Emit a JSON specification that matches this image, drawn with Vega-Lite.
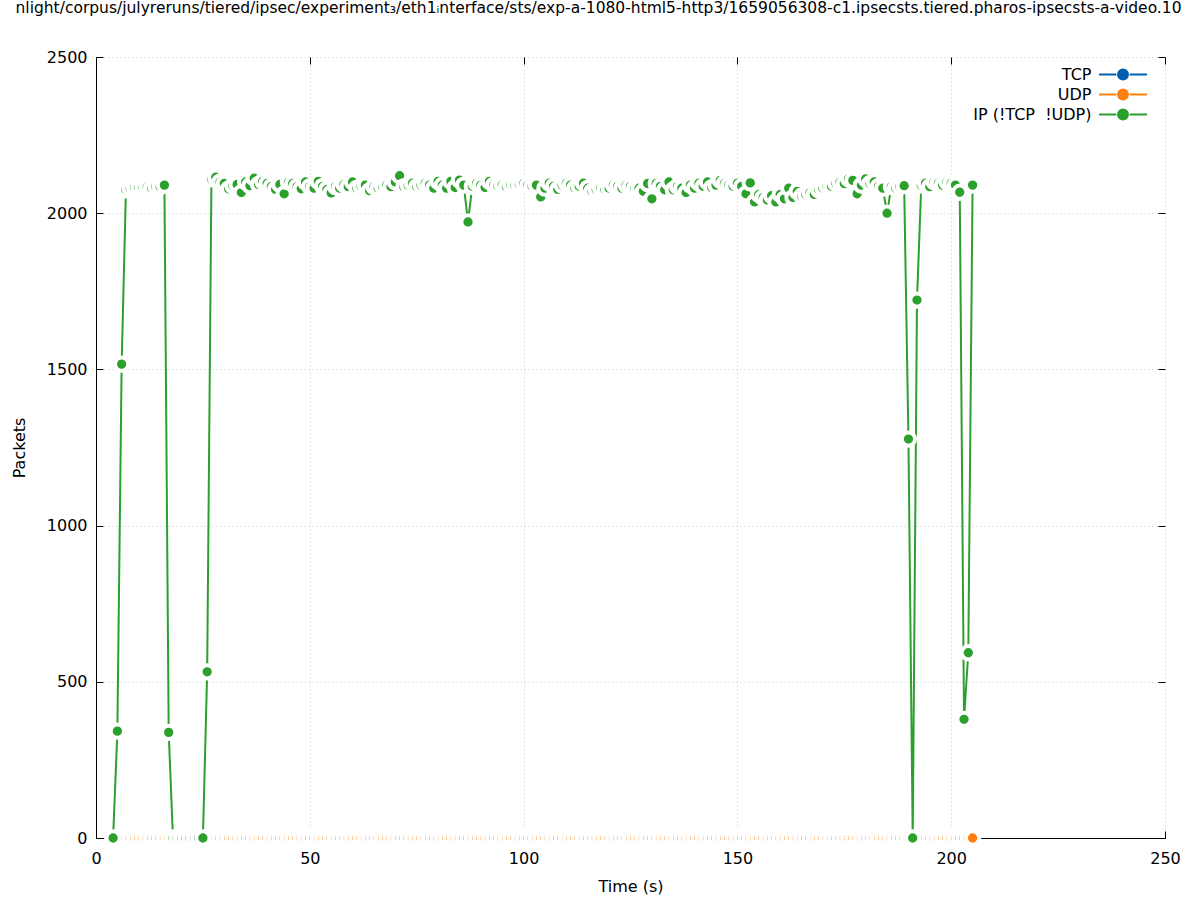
{
"$schema": "https://vega.github.io/schema/vega-lite/v6.json",
"width": 1069, "height": 781,
"autosize": {"type": "none"},
"padding": {"left": 96, "top": 57, "right": 32, "bottom": 62},
"background": "white",
"title": {"text": "nlight/corpus/julyreruns/tiered/ipsec/experiment₃/eth1ᵢnterface/sts/exp-a-1080-html5-http3/1659056308-c1.ipsecsts.tiered.pharos-ipsecsts-a-video.10", "fontSize": 15.5, "fontWeight": "normal", "font": "DejaVu Sans", "anchor": "middle", "dx": -32, "offset": 21, "baseline": "alphabetic", "color": "black"},
"data": {"values": [
{"t":4,"tcp":0,"udp":0,"ip":0},{"t":5,"tcp":0,"udp":0,"ip":342},{"t":6,"tcp":0,"udp":0,"ip":1517},{"t":7,"tcp":0,"udp":0,"ip":2075},{"t":8,"tcp":0,"udp":0,"ip":2080},{"t":9,"tcp":0,"udp":0,"ip":2082},{"t":10,"tcp":0,"udp":0,"ip":2082},{"t":11,"tcp":0,"udp":0,"ip":2083},{"t":12,"tcp":0,"udp":0,"ip":2084},{"t":13,"tcp":0,"udp":0,"ip":2080},{"t":14,"tcp":0,"udp":0,"ip":2085},{"t":15,"tcp":0,"udp":0,"ip":2085},{"t":16,"tcp":0,"udp":0,"ip":2090},{"t":17,"tcp":0,"udp":0,"ip":338},{"t":18,"tcp":0,"udp":0,"ip":0},{"t":19,"tcp":0,"udp":0,"ip":0},{"t":20,"tcp":0,"udp":0,"ip":0},{"t":21,"tcp":0,"udp":0,"ip":0},{"t":22,"tcp":0,"udp":0,"ip":0},{"t":23,"tcp":0,"udp":0,"ip":0},{"t":24,"tcp":0,"udp":0,"ip":0},{"t":25,"tcp":0,"udp":0,"ip":0},{"t":26,"tcp":0,"udp":0,"ip":532},{"t":27,"tcp":0,"udp":0,"ip":2110},{"t":28,"tcp":0,"udp":0,"ip":2115},{"t":29,"tcp":0,"udp":0,"ip":2100},{"t":30,"tcp":0,"udp":0,"ip":2095},{"t":31,"tcp":0,"udp":0,"ip":2078},{"t":32,"tcp":0,"udp":0,"ip":2088},{"t":33,"tcp":0,"udp":0,"ip":2092},{"t":34,"tcp":0,"udp":0,"ip":2066},{"t":35,"tcp":0,"udp":0,"ip":2100},{"t":36,"tcp":0,"udp":0,"ip":2088},{"t":37,"tcp":0,"udp":0,"ip":2112},{"t":38,"tcp":0,"udp":0,"ip":2092},{"t":39,"tcp":0,"udp":0,"ip":2102},{"t":40,"tcp":0,"udp":0,"ip":2095},{"t":41,"tcp":0,"udp":0,"ip":2085},{"t":42,"tcp":0,"udp":0,"ip":2076},{"t":43,"tcp":0,"udp":0,"ip":2092},{"t":44,"tcp":0,"udp":0,"ip":2062},{"t":45,"tcp":0,"udp":0,"ip":2100},{"t":46,"tcp":0,"udp":0,"ip":2095},{"t":47,"tcp":0,"udp":0,"ip":2085},{"t":48,"tcp":0,"udp":0,"ip":2078},{"t":49,"tcp":0,"udp":0,"ip":2100},{"t":50,"tcp":0,"udp":0,"ip":2085},{"t":51,"tcp":0,"udp":0,"ip":2080},{"t":52,"tcp":0,"udp":0,"ip":2102},{"t":53,"tcp":0,"udp":0,"ip":2086},{"t":54,"tcp":0,"udp":0,"ip":2076},{"t":55,"tcp":0,"udp":0,"ip":2065},{"t":56,"tcp":0,"udp":0,"ip":2085},{"t":57,"tcp":0,"udp":0,"ip":2080},{"t":58,"tcp":0,"udp":0,"ip":2092},{"t":59,"tcp":0,"udp":0,"ip":2085},{"t":60,"tcp":0,"udp":0,"ip":2100},{"t":61,"tcp":0,"udp":0,"ip":2080},{"t":62,"tcp":0,"udp":0,"ip":2086},{"t":63,"tcp":0,"udp":0,"ip":2090},{"t":64,"tcp":0,"udp":0,"ip":2072},{"t":65,"tcp":0,"udp":0,"ip":2085},{"t":66,"tcp":0,"udp":0,"ip":2080},{"t":67,"tcp":0,"udp":0,"ip":2086},{"t":68,"tcp":0,"udp":0,"ip":2090},{"t":69,"tcp":0,"udp":0,"ip":2085},{"t":70,"tcp":0,"udp":0,"ip":2100},{"t":71,"tcp":0,"udp":0,"ip":2120},{"t":72,"tcp":0,"udp":0,"ip":2085},{"t":73,"tcp":0,"udp":0,"ip":2090},{"t":74,"tcp":0,"udp":0,"ip":2096},{"t":75,"tcp":0,"udp":0,"ip":2085},{"t":76,"tcp":0,"udp":0,"ip":2090},{"t":77,"tcp":0,"udp":0,"ip":2096},{"t":78,"tcp":0,"udp":0,"ip":2090},{"t":79,"tcp":0,"udp":0,"ip":2080},{"t":80,"tcp":0,"udp":0,"ip":2102},{"t":81,"tcp":0,"udp":0,"ip":2090},{"t":82,"tcp":0,"udp":0,"ip":2080},{"t":83,"tcp":0,"udp":0,"ip":2102},{"t":84,"tcp":0,"udp":0,"ip":2082},{"t":85,"tcp":0,"udp":0,"ip":2106},{"t":86,"tcp":0,"udp":0,"ip":2090},{"t":87,"tcp":0,"udp":0,"ip":1972},{"t":88,"tcp":0,"udp":0,"ip":2086},{"t":89,"tcp":0,"udp":0,"ip":2096},{"t":90,"tcp":0,"udp":0,"ip":2090},{"t":91,"tcp":0,"udp":0,"ip":2082},{"t":92,"tcp":0,"udp":0,"ip":2102},{"t":93,"tcp":0,"udp":0,"ip":2090},{"t":94,"tcp":0,"udp":0,"ip":2086},{"t":95,"tcp":0,"udp":0,"ip":2090},{"t":96,"tcp":0,"udp":0,"ip":2085},{"t":97,"tcp":0,"udp":0,"ip":2090},{"t":98,"tcp":0,"udp":0,"ip":2090},{"t":99,"tcp":0,"udp":0,"ip":2092},{"t":100,"tcp":0,"udp":0,"ip":2095},{"t":101,"tcp":0,"udp":0,"ip":2090},{"t":102,"tcp":0,"udp":0,"ip":2086},{"t":103,"tcp":0,"udp":0,"ip":2090},{"t":104,"tcp":0,"udp":0,"ip":2052},{"t":105,"tcp":0,"udp":0,"ip":2080},{"t":106,"tcp":0,"udp":0,"ip":2096},{"t":107,"tcp":0,"udp":0,"ip":2086},{"t":108,"tcp":0,"udp":0,"ip":2076},{"t":109,"tcp":0,"udp":0,"ip":2090},{"t":110,"tcp":0,"udp":0,"ip":2096},{"t":111,"tcp":0,"udp":0,"ip":2090},{"t":112,"tcp":0,"udp":0,"ip":2080},{"t":113,"tcp":0,"udp":0,"ip":2086},{"t":114,"tcp":0,"udp":0,"ip":2096},{"t":115,"tcp":0,"udp":0,"ip":2080},{"t":116,"tcp":0,"udp":0,"ip":2070},{"t":117,"tcp":0,"udp":0,"ip":2075},{"t":118,"tcp":0,"udp":0,"ip":2080},{"t":119,"tcp":0,"udp":0,"ip":2076},{"t":120,"tcp":0,"udp":0,"ip":2080},{"t":121,"tcp":0,"udp":0,"ip":2090},{"t":122,"tcp":0,"udp":0,"ip":2086},{"t":123,"tcp":0,"udp":0,"ip":2080},{"t":124,"tcp":0,"udp":0,"ip":2090},{"t":125,"tcp":0,"udp":0,"ip":2086},{"t":126,"tcp":0,"udp":0,"ip":2080},{"t":127,"tcp":0,"udp":0,"ip":2080},{"t":128,"tcp":0,"udp":0,"ip":2070},{"t":129,"tcp":0,"udp":0,"ip":2095},{"t":130,"tcp":0,"udp":0,"ip":2046},{"t":131,"tcp":0,"udp":0,"ip":2095},{"t":132,"tcp":0,"udp":0,"ip":2086},{"t":133,"tcp":0,"udp":0,"ip":2075},{"t":134,"tcp":0,"udp":0,"ip":2100},{"t":135,"tcp":0,"udp":0,"ip":2075},{"t":136,"tcp":0,"udp":0,"ip":2086},{"t":137,"tcp":0,"udp":0,"ip":2080},{"t":138,"tcp":0,"udp":0,"ip":2066},{"t":139,"tcp":0,"udp":0,"ip":2090},{"t":140,"tcp":0,"udp":0,"ip":2080},{"t":141,"tcp":0,"udp":0,"ip":2096},{"t":142,"tcp":0,"udp":0,"ip":2086},{"t":143,"tcp":0,"udp":0,"ip":2100},{"t":144,"tcp":0,"udp":0,"ip":2082},{"t":145,"tcp":0,"udp":0,"ip":2090},{"t":146,"tcp":0,"udp":0,"ip":2105},{"t":147,"tcp":0,"udp":0,"ip":2096},{"t":148,"tcp":0,"udp":0,"ip":2090},{"t":149,"tcp":0,"udp":0,"ip":2086},{"t":150,"tcp":0,"udp":0,"ip":2096},{"t":151,"tcp":0,"udp":0,"ip":2086},{"t":152,"tcp":0,"udp":0,"ip":2062},{"t":153,"tcp":0,"udp":0,"ip":2097},{"t":154,"tcp":0,"udp":0,"ip":2036},{"t":155,"tcp":0,"udp":0,"ip":2060},{"t":156,"tcp":0,"udp":0,"ip":2050},{"t":157,"tcp":0,"udp":0,"ip":2042},{"t":158,"tcp":0,"udp":0,"ip":2056},{"t":159,"tcp":0,"udp":0,"ip":2036},{"t":160,"tcp":0,"udp":0,"ip":2060},{"t":161,"tcp":0,"udp":0,"ip":2046},{"t":162,"tcp":0,"udp":0,"ip":2080},{"t":163,"tcp":0,"udp":0,"ip":2050},{"t":164,"tcp":0,"udp":0,"ip":2070},{"t":165,"tcp":0,"udp":0,"ip":2055},{"t":166,"tcp":0,"udp":0,"ip":2060},{"t":167,"tcp":0,"udp":0,"ip":2066},{"t":168,"tcp":0,"udp":0,"ip":2060},{"t":169,"tcp":0,"udp":0,"ip":2075},{"t":170,"tcp":0,"udp":0,"ip":2080},{"t":171,"tcp":0,"udp":0,"ip":2086},{"t":172,"tcp":0,"udp":0,"ip":2086},{"t":173,"tcp":0,"udp":0,"ip":2096},{"t":174,"tcp":0,"udp":0,"ip":2100},{"t":175,"tcp":0,"udp":0,"ip":2095},{"t":176,"tcp":0,"udp":0,"ip":2110},{"t":177,"tcp":0,"udp":0,"ip":2105},{"t":178,"tcp":0,"udp":0,"ip":2062},{"t":179,"tcp":0,"udp":0,"ip":2090},{"t":180,"tcp":0,"udp":0,"ip":2110},{"t":181,"tcp":0,"udp":0,"ip":2095},{"t":182,"tcp":0,"udp":0,"ip":2100},{"t":183,"tcp":0,"udp":0,"ip":2086},{"t":184,"tcp":0,"udp":0,"ip":2080},{"t":185,"tcp":0,"udp":0,"ip":2000},{"t":186,"tcp":0,"udp":0,"ip":2085},{"t":187,"tcp":0,"udp":0,"ip":2080},{"t":188,"tcp":0,"udp":0,"ip":2086},{"t":189,"tcp":0,"udp":0,"ip":2088},{"t":190,"tcp":0,"udp":0,"ip":1277},{"t":191,"tcp":0,"udp":0,"ip":0},{"t":192,"tcp":0,"udp":0,"ip":1722},{"t":193,"tcp":0,"udp":0,"ip":2090},{"t":194,"tcp":0,"udp":0,"ip":2096},{"t":195,"tcp":0,"udp":0,"ip":2085},{"t":196,"tcp":0,"udp":0,"ip":2100},{"t":197,"tcp":0,"udp":0,"ip":2096},{"t":198,"tcp":0,"udp":0,"ip":2090},{"t":199,"tcp":0,"udp":0,"ip":2100},{"t":200,"tcp":0,"udp":0,"ip":2096},{"t":201,"tcp":0,"udp":0,"ip":2090},{"t":202,"tcp":0,"udp":0,"ip":2067},{"t":203,"tcp":0,"udp":0,"ip":380},{"t":204,"tcp":0,"udp":0,"ip":593},{"t":205,"tcp":0,"udp":0,"ip":2090}
]},
"transform": [{"fold": ["tcp", "udp", "ip"], "as": ["s", "v"]}],
"layer": [
{"transform": [{"filter": "datum.s == 'tcp'"}],
 "mark": {"type": "line", "strokeWidth": 2},
 "encoding": {
  "x": {"field": "t", "type": "quantitative", "scale": {"domain": [0, 250], "nice": false, "zero": false},
        "axis": {"orient": "bottom", "values": [0, 50, 100, 150, 200, 250], "format": "d", "grid": true, "labelPadding": 19, "title": "Time (s)", "titlePadding": 12}},
  "y": {"field": "v", "type": "quantitative", "scale": {"domain": [0, 2500], "nice": false},
        "axis": {"orient": "left", "values": [0, 500, 1000, 1500, 2000, 2500], "format": "d", "grid": true, "labelPadding": 16, "title": "Packets", "titlePadding": 19}},
  "color": {"field": "s", "type": "nominal", "scale": {"domain": ["tcp", "udp", "ip"], "range": ["#0060ad", "#ff7f0e", "#2ca02c"]}}
 }},
{"transform": [{"filter": "datum.s == 'tcp'"}],
 "mark": {"type": "point", "filled": true, "size": 177, "stroke": "white", "strokeWidth": 4, "opacity": 1},
 "encoding": {
  "x": {"field": "t", "type": "quantitative", "axis": null},
  "y": {"field": "v", "type": "quantitative", "axis": null},
  "color": {"field": "s", "type": "nominal"}
 }},
{"transform": [{"filter": "datum.s == 'udp'"}],
 "mark": {"type": "line", "strokeWidth": 2},
 "encoding": {
  "x": {"field": "t", "type": "quantitative", "axis": null},
  "y": {"field": "v", "type": "quantitative", "axis": null},
  "color": {"field": "s", "type": "nominal"}
 }},
{"transform": [{"filter": "datum.s == 'udp'"}],
 "mark": {"type": "point", "filled": true, "size": 177, "stroke": "white", "strokeWidth": 4, "opacity": 1},
 "encoding": {
  "x": {"field": "t", "type": "quantitative", "axis": null},
  "y": {"field": "v", "type": "quantitative", "axis": null},
  "color": {"field": "s", "type": "nominal"}
 }},
{"transform": [{"filter": "datum.s == 'ip'"}],
 "mark": {"type": "line", "strokeWidth": 2},
 "encoding": {
  "x": {"field": "t", "type": "quantitative", "axis": null},
  "y": {"field": "v", "type": "quantitative", "axis": null},
  "color": {"field": "s", "type": "nominal"}
 }},
{"transform": [{"filter": "datum.s == 'ip'"}],
 "mark": {"type": "point", "filled": true, "size": 177, "stroke": "white", "strokeWidth": 4, "opacity": 1},
 "encoding": {
  "x": {"field": "t", "type": "quantitative",
        "axis": {"orient": "top", "values": [0, 50, 100, 150, 200, 250], "labels": false, "domain": false, "grid": false, "title": null}},
  "y": {"field": "v", "type": "quantitative",
        "axis": {"orient": "right", "values": [0, 500, 1000, 1500, 2000, 2500], "labels": false, "domain": false, "grid": false, "title": null}},
  "color": {"field": "s", "type": "nominal",
        "legend": {"title": null, "orient": "none", "legendX": 1019, "legendY": 9.5, "padding": 0,
                   "labelAlign": "right", "labelOffset": -39.5,
                   "labelFontSize": 16, "labelFont": "DejaVu Sans", "labelColor": "black",
                   "rowPadding": 2, "symbolSize": 121, "symbolStrokeWidth": 2,
                   "symbolType": "M-4.36,0H-1.2M1.2,0H4.36M-0.9,0A0.9,0.9 0 1,0 0.9,0A0.9,0.9 0 1,0 -0.9,0Z",
                   "labelExpr": "datum.label == 'ip' ? 'IP (!TCP\u00a0 !UDP)' : upper(datum.label)",
                   "encode": {"symbols": {"update": {"fill": {"scale": "color", "field": "value"}, "stroke": {"scale": "color", "field": "value"}, "strokeWidth": {"value": 2}, "opacity": {"value": 1}}}}}}
 }}
],
"resolve": {"axis": {"x": "independent", "y": "independent"}},
"config": {
  "font": "DejaVu Sans",
  "view": {"stroke": null},
  "axis": {"labelFont": "DejaVu Sans", "titleFont": "DejaVu Sans", "labelFontSize": 16, "titleFontSize": 16, "titleFontWeight": "normal", "labelColor": "black", "titleColor": "black", "domainColor": "black", "tickColor": "black", "gridColor": "#c8c8c8", "gridDash": [1, 3], "tickSize": -7, "labelFlush": false, "zindex": 1}
}
}
